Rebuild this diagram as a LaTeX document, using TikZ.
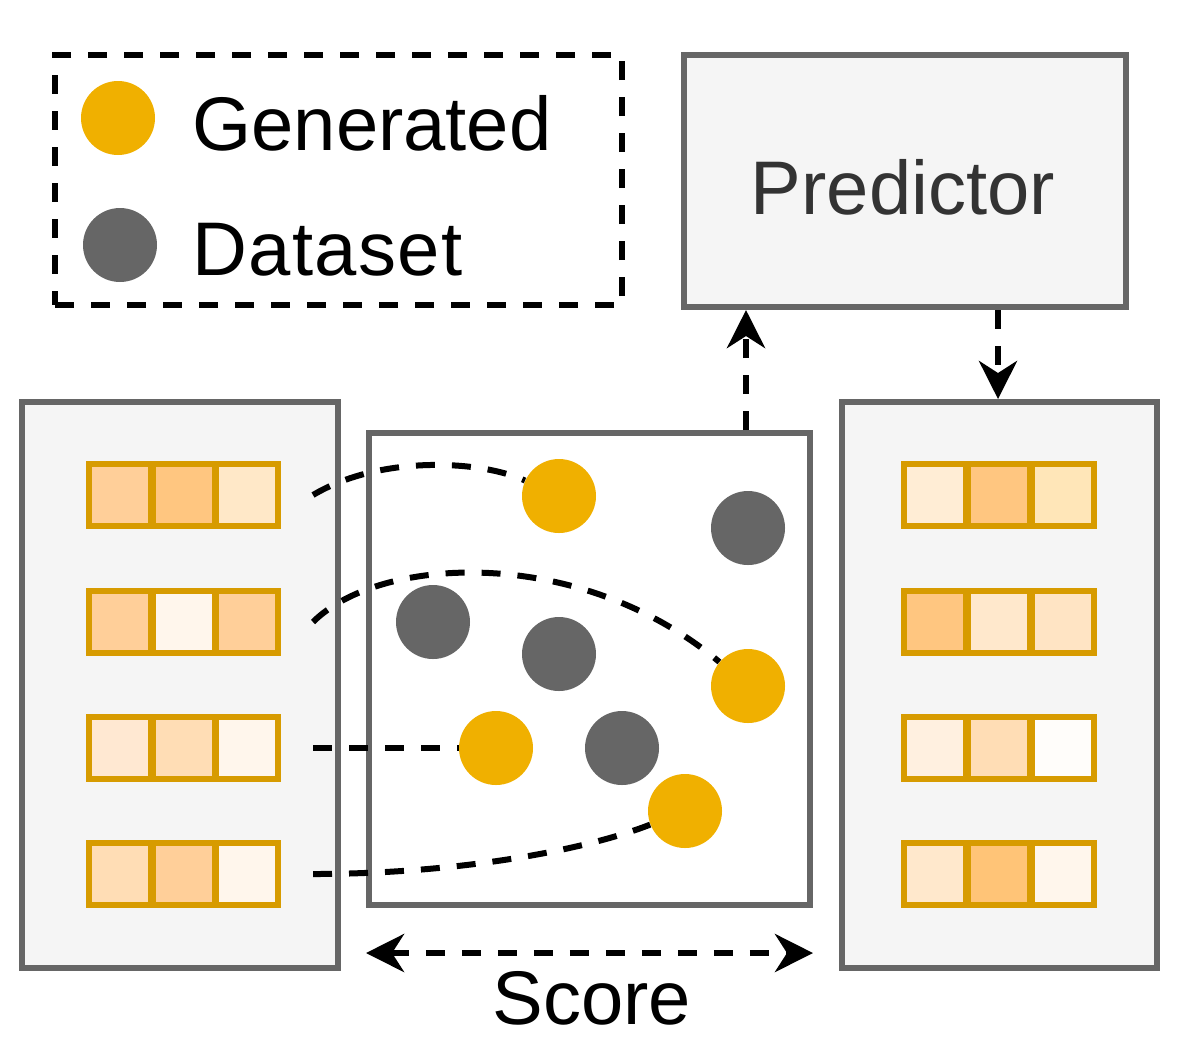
\documentclass[tikz,border=0pt]{standalone}
\usepackage{fontspec}
\setmainfont{Liberation Sans}
\usetikzlibrary{arrows.meta}
\definecolor{gencol}{HTML}{F0B000}
\definecolor{datcol}{HTML}{666666}
\definecolor{celldraw}{HTML}{D79B00}
\definecolor{panelfill}{HTML}{F5F5F5}
\tikzset{dashline/.style={black, line width=3pt, dash pattern=on 9.5pt off 8.5pt}}
\tikzset{dasharrow/.style={dashline, -{Stealth[length=19pt,width=19pt,inset=6pt]}}}

\begin{document}
\begin{tikzpicture}[
		x=0.5pt, y=-0.5pt,
		panel/.style={draw=datcol, fill=panelfill, line width=3pt},
		cell/.style={draw=celldraw, line width=3pt, minimum width=31pt, minimum height=31pt, inner sep=0pt},
		dot/.style={circle, fill=#1, minimum size=37pt, inner sep=0pt},
		dot/.default=gencol,
		lbl/.style={font=\fontsize{38}{45}\selectfont, inner sep=0pt}
		]    % 1 unit = 1 pixel of the reference
		\useasboundingbox (0,0) rectangle (1181,1056);
		
		% legend
		\node[draw, dashline, minimum width=283.5pt, minimum height=125pt] (legend) at (338.5,180) {};
		\node[dot] (lgen) at (118,118) {};
		\node[dot=datcol] (ldat) at (120,245) {};
		\node[lbl, anchor=west] (lgentext) at (192,123) {Generated};
		\node[lbl, anchor=west] (ldattext) at (192,250) {\addfontfeature{LetterSpace=1.8}Dataset};
		
		% boxes
		\node[panel, minimum width=221pt, minimum height=126pt] (pred) at (905,181) {};
		\node[lbl, text=black!80] (predtext) at (903,187) {Predictor};
		\node[panel, minimum width=158pt, minimum height=283pt] (left) at (180,685) {};
		\node[panel, fill=white, minimum width=220.5pt, minimum height=236pt] (mid) at (589.5,669) {};
		\node[panel, minimum width=157.5pt, minimum height=283pt] (right) at (999.5,685) {};
		
		% feature cells
		\foreach \row/\y/\ca/\cb/\cc in {1/495/FFCF99/FFC680/FFE8C8, 2/622/FFCF99/FFF6EC/FFCF99,
				3/748/FFE8D2/FFDDB5/FFF6EC, 4/874/FFDDB5/FFCF99/FFF6EC} {
			\definecolor{ca}{HTML}{\ca}\definecolor{cb}{HTML}{\cb}\definecolor{cc}{HTML}{\cc}
			\node[cell, fill=ca] (l\row a) at (120,\y) {};
			\node[cell, fill=cb] (l\row b) at (183.5,\y) {};
			\node[cell, fill=cc] (l\row c) at (247,\y) {};
		}
		\foreach \row/\y/\ca/\cb/\cc in {1/495/FFEDD5/FFC680/FFE6B8, 2/622/FFC680/FFE8CC/FFE4C4,
				3/748/FFF0E0/FFDDB5/FFFDFA, 4/874/FFE8CC/FFC477/FFF6EC} {
			\definecolor{ca}{HTML}{\ca}\definecolor{cb}{HTML}{\cb}\definecolor{cc}{HTML}{\cc}
			\node[cell, fill=ca] (r\row a) at (935,\y) {};
			\node[cell, fill=cb] (r\row b) at (999,\y) {};
			\node[cell, fill=cc] (r\row c) at (1063,\y) {};
		}
		
		% points in the score space
		\node[dot] (g1) at (559,496) {};
		\node[dot] (g2) at (748,686) {};
		\node[dot] (g3) at (496,748) {};
		\node[dot] (g4) at (685,811) {};
		\node[dot=datcol] (d1) at (748,528) {};
		\node[dot=datcol] (d2) at (433,622) {};
		\node[dot=datcol] (d3) at (559,654) {};
		\node[dot=datcol] (d4) at (622,748) {};
		
		% mapping of samples
		\draw[dashline] ([xshift=16pt]l1c.east) .. controls (380,455) and (480,460) .. (g1);
		\draw[dashline] ([xshift=16pt]l2c.east) .. controls (380,555) and (580,545) .. (g2);
		\draw[dashline] ([xshift=16pt]l3c.east) -- (g3);
		\draw[dashline] ([xshift=16pt]l4c.east) .. controls (450,874) and (580,852) .. (g4);
		
		% arrows
		\coordinate (upx) at (746,0);
		\coordinate (downx) at (998,0);
		\draw[dasharrow] (mid.north -| upx) -- (pred.south -| upx);
		\draw[dasharrow] (pred.south -| downx) -- (right.north -| downx);
		\draw[dasharrow, {Stealth[length=19pt,width=19pt,inset=6pt]}-{Stealth[length=19pt,width=19pt,inset=6pt]}]
			([yshift=-22.5pt]mid.south west) -- ([yshift=-22.5pt]mid.south east);
		\node[lbl] (score) at (592,998) {Score};
	\end{tikzpicture}
\end{document}
